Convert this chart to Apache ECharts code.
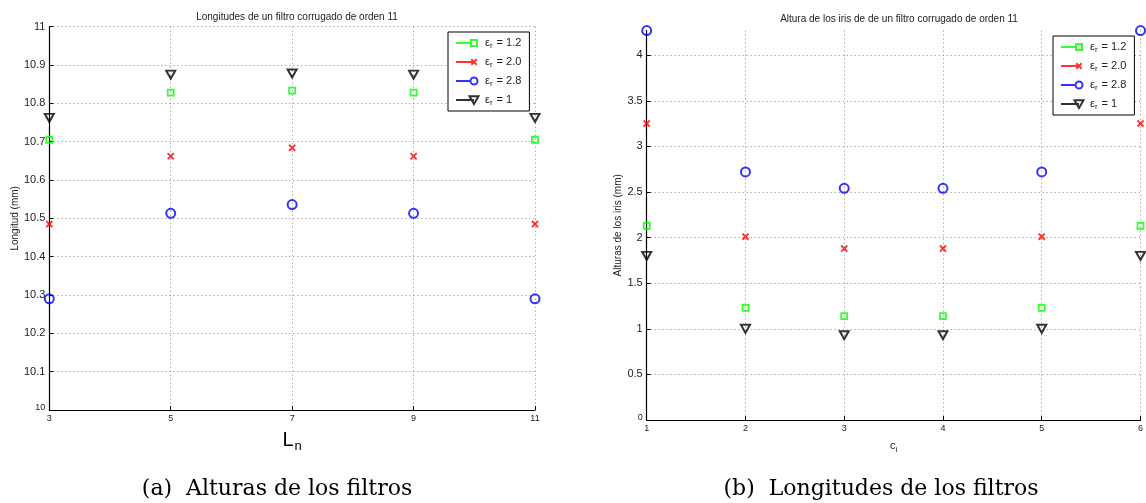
<!DOCTYPE html>
<html>
<head>
<meta charset="utf-8">
<script src="https://cdn.jsdelivr.net/npm/echarts@6/dist/echarts.min.js"></script>
<style>
  html, body { margin: 0; padding: 0; background: #fff; }
  #chart { width: 1146px; height: 503px; }
</style>
</head>
<body>
<div id="chart"></div>
<script>
// ---- data: filter section lengths (left) and iris heights (right) ----
const seriesNames = ['εr = 1.2', 'εr = 2.0', 'εr = 2.8', 'εr = 1'];

const lnPositions = [3, 5, 7, 9, 11];
const longitudEr12 = [10.705, 10.828, 10.833, 10.828, 10.705];
const longitudEr20 = [10.485, 10.662, 10.684, 10.662, 10.485];
const longitudEr28 = [10.290, 10.513, 10.536, 10.513, 10.290];
const longitudEr1  = [10.762, 10.875, 10.878, 10.875, 10.762];

const ciPositions = [1, 2, 3, 4, 5, 6];
const alturaEr12 = [2.13, 1.23, 1.14, 1.14, 1.23, 2.13];
const alturaEr20 = [3.25, 2.01, 1.88, 1.88, 2.01, 3.25];
const alturaEr28 = [4.27, 2.72, 2.54, 2.54, 2.72, 4.27];
const alturaEr1  = [1.80, 1.00, 0.93, 0.93, 1.00, 1.80];

const lnTicks = [3, 5, 7, 9, 11];
const longitudTicks = [10, 10.1, 10.2, 10.3, 10.4, 10.5, 10.6, 10.7, 10.8, 10.9, 11];
const longitudTickLabels = ['10', '10.1', '10.2', '10.3', '10.4', '10.5', '10.6', '10.7', '10.8', '10.9', '11'];
const ciTicks = [1, 2, 3, 4, 5, 6];
const alturaTicks = [0, 0.5, 1, 1.5, 2, 2.5, 3, 3.5, 4];
const alturaTickLabels = ['0', '0.5', '1', '1.5', '2', '2.5', '3', '3.5', '4'];

// ---- styling ----
const FONT = 'Liberation Sans, Arial, sans-serif';
const SERIF = 'DejaVu Serif, Liberation Serif, serif';
const colors = ['#00ff00', '#ff0000', '#0000ff', '#000000'];
const crossPath = 'path://M0,1.8 L1.8,0 L5,3.2 L8.2,0 L10,1.8 L6.8,5 L10,8.2 L8.2,10 L5,6.8 L1.8,10 L0,8.2 L3.2,5 Z';

const markerStyles = [
  { symbol: 'rect', symbolSize: 6, itemStyle: { color: 'rgba(0,0,0,0)', borderColor: colors[0], borderWidth: 1.8 } },
  { symbol: crossPath, symbolSize: 7.5, itemStyle: { color: colors[1], borderWidth: 0 } },
  { symbol: 'circle', symbolSize: 9, itemStyle: { color: 'rgba(0,0,0,0)', borderColor: colors[2], borderWidth: 2 } },
  { symbol: 'triangle', symbolSize: [9, 8], symbolRotate: 180, itemStyle: { color: 'rgba(0,0,0,0)', borderColor: colors[3], borderWidth: 2 } }
];

// legend icons: a short line ending in the marker (24 x 10 box)
const box = 'M0,0 M24,10 ';
const legendIcons = [
  'path://' + box + 'M0,5 L15,5 M15,2 L21,2 L21,8 L15,8 Z',
  'path://' + box + 'M0,5 L18,5 M15.3,2.3 L20.7,7.7 M20.7,2.3 L15.3,7.7',
  'path://' + box + 'M0,5 L14.5,5 M21.5,5 A3.5,3.5 0 1 1 14.5,5 A3.5,3.5 0 1 1 21.5,5',
  'path://' + box + 'M0,5 L18,5 M13.5,1.2 L22.5,1.2 L18,9 Z'
];

function legendFor(left, top) {
  return {
    orient: 'vertical',
    left: left, top: top,
    backgroundColor: '#fff',
    borderColor: '#000', borderWidth: 1, borderRadius: 0,
    padding: [4, 8, 4, 7],
    itemGap: 5,
    itemWidth: 24, itemHeight: 10,
    selectedMode: false,
    data: seriesNames.map((n, i) => ({
      name: n,
      icon: legendIcons[i],
      itemStyle: { color: 'rgba(0,0,0,0)', borderColor: colors[i], borderWidth: 2 }
    })),
    formatter: n => '{e|ε}{s|r}{e|' + n.slice(2) + '}',
    textStyle: {
      rich: {
        e: { fontFamily: FONT, fontSize: 11, color: '#222', lineHeight: 14 },
        s: { fontFamily: FONT, fontSize: 8, color: '#222', lineHeight: 8, padding: [6, 1, 0, 0] }
      }
    }
  };
}

function valueFormatter(ticks, labels) {
  return v => {
    const i = ticks.findIndex(t => Math.abs(t - v) < 1e-9);
    const s = i >= 0 ? labels[i] : String(v);
    return i === 0 ? '{m|' + s + '}' : s;
  };
}

const gridLine = { show: true, lineStyle: { color: '#8a8a8a', width: 1, type: [1, 3] } };
const axisLine = { show: true, onZero: false, lineStyle: { color: '#000', width: 1.2 } };
const axisTick = (vals) => ({ show: true, inside: true, length: 4, customValues: vals, lineStyle: { color: '#000' } });

function makeSeries(values, positions, i, axisIdx) {
  return Object.assign({
    type: 'scatter',
    name: seriesNames[i],
    xAxisIndex: axisIdx, yAxisIndex: axisIdx,
    clip: false,
    silent: true,
    data: positions.map((x, k) => [x, values[k]])
  }, markerStyles[i]);
}

const option = {
  animation: false,
  backgroundColor: '#fff',
  title: [
    { text: 'Longitudes de un filtro corrugado de orden 11', left: 292, top: 7, textAlign: 'center',
      textStyle: { fontFamily: FONT, fontSize: 10, fontWeight: 'normal', color: '#222' } },
    { text: 'Altura de los iris de de un filtro corrugado de orden 11', left: 894, top: 9, textAlign: 'center',
      textStyle: { fontFamily: FONT, fontSize: 10, fontWeight: 'normal', color: '#222' } },
    { text: '(a)  Alturas de los filtros', left: 277, top: 478, textAlign: 'center', padding: 0,
      textStyle: { fontFamily: SERIF, fontSize: 22, fontWeight: 'normal', color: '#000' } },
    { text: '(b)  Longitudes de los filtros', left: 881, top: 478, textAlign: 'center', padding: 0,
      textStyle: { fontFamily: SERIF, fontSize: 22, fontWeight: 'normal', color: '#000' } }
  ],
  legend: [legendFor(448, 32), legendFor(1053, 36)],
  grid: [
    { left: 49.3, top: 26.7, width: 485.7, height: 383.3, containLabel: false },
    { left: 646.7, top: 30.6, width: 495, height: 389.4, containLabel: false }
  ],
  xAxis: [
    {
      type: 'value', gridIndex: 0, min: 3, max: 11,
      name: '{L|L}{n|n}', nameLocation: 'middle', nameGap: 14,
      nameTextStyle: { rich: {
        L: { fontFamily: FONT, fontSize: 20, color: '#000', lineHeight: 22 },
        n: { fontFamily: FONT, fontSize: 13, color: '#000', lineHeight: 22, padding: [12, 0, 0, 1] }
      } },
      axisLine: axisLine, axisTick: axisTick(lnTicks),
      axisLabel: { customValues: lnTicks, fontFamily: FONT, fontSize: 9, color: '#222', margin: 4 },
      splitLine: gridLine
    },
    {
      type: 'value', gridIndex: 1, min: 1, max: 6,
      name: '{c|c}{i|i}', nameLocation: 'middle', nameGap: 15,
      nameTextStyle: { rich: {
        c: { fontFamily: FONT, fontSize: 11, color: '#222', lineHeight: 14 },
        i: { fontFamily: FONT, fontSize: 8, color: '#222', lineHeight: 14, padding: [8, 0, 0, 0] }
      } },
      axisLine: axisLine, axisTick: axisTick(ciTicks),
      axisLabel: { customValues: ciTicks, fontFamily: FONT, fontSize: 9, color: '#222', margin: 4 },
      splitLine: gridLine
    }
  ],
  yAxis: [
    {
      type: 'value', gridIndex: 0, min: 10, max: 11,
      name: 'Longitud (mm)', nameLocation: 'middle', nameGap: 29, nameRotate: 90,
      nameTextStyle: { fontFamily: FONT, fontSize: 10, color: '#222' },
      axisLine: axisLine, axisTick: axisTick(longitudTicks),
      axisLabel: {
        customValues: longitudTicks, fontFamily: FONT, fontSize: 11, color: '#222', margin: 4,
        formatter: valueFormatter(longitudTicks, longitudTickLabels),
        rich: { m: { fontFamily: FONT, fontSize: 9, color: '#222', padding: [0, 0, 4, 0] } }
      },
      splitLine: gridLine
    },
    {
      type: 'value', gridIndex: 1, min: 0, max: 4.27,
      name: 'Alturas de los iris (mm)', nameLocation: 'middle', nameGap: 23, nameRotate: 90,
      nameTextStyle: { fontFamily: FONT, fontSize: 10, color: '#222' },
      axisLine: axisLine, axisTick: axisTick(alturaTicks),
      axisLabel: {
        customValues: alturaTicks, fontFamily: FONT, fontSize: 11, color: '#222', margin: 4,
        formatter: valueFormatter(alturaTicks, alturaTickLabels),
        rich: { m: { fontFamily: FONT, fontSize: 9, color: '#222', padding: [0, 0, 4, 0] } }
      },
      splitLine: gridLine
    }
  ],
  series: [
    makeSeries(longitudEr12, lnPositions, 0, 0),
    makeSeries(longitudEr20, lnPositions, 1, 0),
    makeSeries(longitudEr28, lnPositions, 2, 0),
    makeSeries(longitudEr1, lnPositions, 3, 0),
    makeSeries(alturaEr12, ciPositions, 0, 1),
    makeSeries(alturaEr20, ciPositions, 1, 1),
    makeSeries(alturaEr28, ciPositions, 2, 1),
    makeSeries(alturaEr1, ciPositions, 3, 1)
  ]
};

const chart = echarts.init(document.getElementById('chart'), null, { renderer: 'canvas' });
chart.setOption(option);
</script>
</body>
</html>
